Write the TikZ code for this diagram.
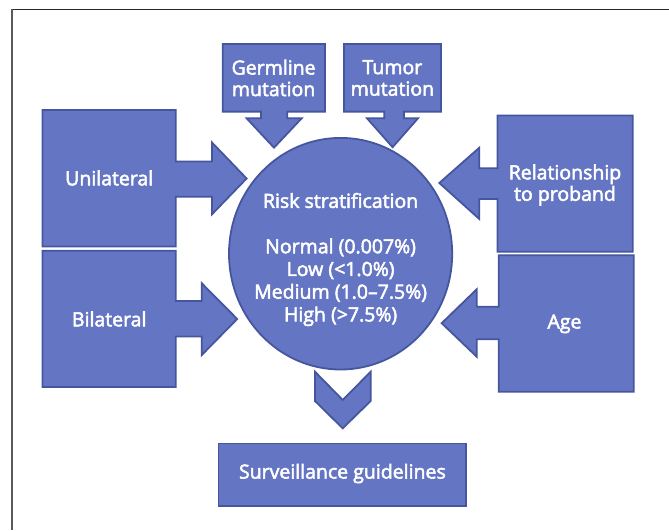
\documentclass[tikz,border=0pt]{standalone}
\usepackage{fontspec}
\setmainfont{Open Sans}
\newfontfamily\lblfont{Open Sans}[FakeBold=2.6]
\usetikzlibrary{shapes.geometric}
\definecolor{fillc}{RGB}{100,117,196}
\definecolor{edgec}{RGB}{70,86,158}
\begin{document}
\begin{tikzpicture}[x=1pt,y=-1pt,
  blk/.style={draw=edgec, fill=fillc, line width=1.8pt, line join=miter},
  lbl/.style={text=white, font=\lblfont\fontsize{19.5}{21.5}\selectfont, align=center, inner sep=0pt, outer sep=0pt},
  framev/.style={draw=black!65, line width=1.4pt},
  frameh/.style={draw=black!85, line width=1.6pt}]
\useasboundingbox (0,0) rectangle (669,530);
% frame
\draw[frameh] (11.5,9.5) -- (669,9.5);
\draw[framev] (12,9) -- (12,530);
% callouts
\draw[blk] (42.5,110) -- (175.8,110) -- (175.8,161.5) -- (212,161.5) -- (212,142.5) -- (246.6,178.5) -- (212,214.3) -- (212,196.8) -- (175.8,196.8) -- (175.8,246.5) -- (42.5,246.5) -- cycle;
\draw[blk] (42.5,250.8) -- (175.8,250.8) -- (175.8,301) -- (201.8,301) -- (201.8,283.3) -- (237.2,319) -- (201.8,355) -- (201.8,336.4) -- (175.8,336.4) -- (175.8,387) -- (42.5,387) -- cycle;
\draw[blk] (632.7,115.5) -- (497.5,115.5) -- (497.5,168.3) -- (479.3,168.3) -- (479.3,147.7) -- (439.3,183) -- (479.3,219) -- (479.3,199) -- (497.5,199) -- (497.5,251.8) -- (632.7,251.8) -- cycle;
\draw[blk] (633.7,255.3) -- (498.7,255.3) -- (498.7,306.7) -- (476.7,306.7) -- (476.7,289.3) -- (441.7,323.2) -- (476.7,356.7) -- (476.7,339.3) -- (498.7,339.3) -- (498.7,391.7) -- (633.7,391.7) -- cycle;
\draw[blk] (222.7,44) -- (325,44) -- (325,111.6) -- (287.3,111.6) -- (287.3,118.3) -- (301.7,118.3) -- (274,147.7) -- (246.6,118.3) -- (261,118.3) -- (261,111.6) -- (222.7,111.6) -- cycle;
\draw[blk] (344,44) -- (441,44) -- (441,111.6) -- (404,111.6) -- (404,118.3) -- (418,118.3) -- (392.6,147.2) -- (367,118.3) -- (384.3,118.3) -- (384.3,111.6) -- (344,111.6) -- cycle;
% centre
\node[blk, ellipse, minimum width=223.2pt, minimum height=231.6pt, inner sep=0pt] (risk) at (340.6,253.7) {};
% chevron
\draw[blk] (315,371.7) -- (342.7,400) -- (370.7,371.7) -- (370.7,401) -- (342.7,428.3) -- (315,401) -- cycle;
% bottom box
\node[blk, rectangle, minimum width=247.9pt, minimum height=62.5pt, inner sep=0pt] (surv) at (342.35,474.75) {};
% labels
\node[lbl] (unit) at (109.2,178) {Unilateral};
\node[lbl] (bilt) at (109.2,319) {Bilateral};
\node[lbl] (relt) at (565,185) {Relationship\\to proband};
\node[lbl] (aget) at (564.5,323.9) {Age};
\node[lbl] (germt) at (273.6,78) {Germline\\mutation};
\node[lbl] (tumt) at (392.4,78) {Tumor\\mutation};
\node[lbl, font=\lblfont\fontsize{19.5}{22.7}\selectfont] (riskt) at (340.6,259.5) {Risk stratification\\[22.7pt]Normal (0.007\%)\\Low ({<}1.0\%)\\Medium (1.0–7.5\%)\\High ({>}7.5\%)};
\node[lbl] (survt) at (342.4,473.5) {Surveillance guidelines};
\end{tikzpicture}
\end{document}
